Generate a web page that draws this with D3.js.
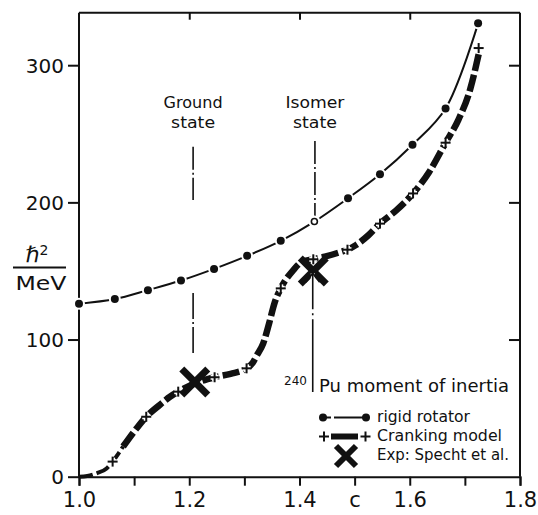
<!DOCTYPE html>
<html>
<head>
<meta charset="utf-8">
<script src="https://cdn.jsdelivr.net/npm/d3@7"></script>
<style>
  html, body { margin: 0; padding: 0; background: #fff; }
  svg { display: block; }
  text { font-family: "DejaVu Sans", "Liberation Sans", sans-serif; fill: #111; }
</style>
</head>
<body>
<svg id="chart" width="538" height="515"></svg>
<script>
// Deformation parameter c (x) and moment of inertia in hbar^2/MeV (y), 240Pu
const xTicks = [1.0, 1.1, 1.2, 1.3, 1.4, 1.5, 1.6, 1.7, 1.8];
const xTickLabels = ["1.0", "", "1.2", "", "1.4", "c", "1.6", "", "1.8"];
const yTicks = [0, 100, 200, 300];
const yTickLabels = ["0", "100", "200", "300"];
const topTicks = [1.2, 1.4, 1.6];

// rigid rotator: points on the curve
const rigidC = [1.0, 1.065, 1.125, 1.185, 1.245, 1.305, 1.366, 1.427, 1.488, 1.546, 1.605, 1.665, 1.724];
const rigidV = [126, 129.5, 136, 143, 151.5, 161, 172, 186, 203, 220.5, 242, 268.5, 330.5];
const rigidOpen = [false, false, false, false, false, false, false, true, false, false, false, false, false];

// cranking model: computed points (crosses)
const crankC = [1.061, 1.122, 1.180, 1.246, 1.304, 1.366, 1.425, 1.487, 1.546, 1.606, 1.665, 1.725];
const crankV = [11, 43.7, 62, 72.5, 79, 137.3, 158.5, 165.5, 184.5, 206.5, 243.5, 312.5];

// cranking model: the drawn curve
const crankCurveC = [1.0, 1.015, 1.032, 1.05, 1.061, 1.08, 1.105, 1.122, 1.147, 1.165, 1.18, 1.21, 1.246, 1.275, 1.304, 1.315, 1.322, 1.334, 1.345, 1.355, 1.366, 1.389, 1.404, 1.425, 1.446, 1.476, 1.487, 1.503, 1.525, 1.546, 1.575, 1.606, 1.635, 1.665, 1.688, 1.71, 1.725];
const crankCurveV = [0, 0.5, 2.5, 6, 11, 22, 35.5, 43.7, 52.5, 58.3, 62, 68, 72.5, 75, 79, 83, 88, 97, 112, 127, 137.3, 150.7, 156.5, 158.5, 160.5, 164, 165.5, 169, 176, 184.5, 194, 206.5, 222, 243.5, 260, 283, 308];

// experiment (Specht et al.)
const expC = [1.21, 1.425];
const expV = [69, 150];

// state markers
const stateNames = [["Ground", "state"], ["Isomer", "state"]];
const stateC = [1.207, 1.428];
const stateUpperV = [[240.6, 201.7], [244.7, 189.2]];
const groundLowerV = [133.9, 90.2];
const isomerArrowC = 1.424;
const isomerArrowV = [148.4, 61.7];

const svg = d3.select("#chart");
const x = d3.scaleLinear().domain([1.0, 1.8]).range([79, 520]);
const y = d3.scaleLinear().domain([0, 300]).range([476.7, 65.2]);
const yTop = 12.7;

const ink = "#111";

// frame
const frame = svg.append("g").attr("fill", "none").attr("stroke", ink).attr("stroke-width", 2);
frame.append("line").attr("x1", x(1.0)).attr("x2", x(1.8)).attr("y1", yTop).attr("y2", yTop);
frame.append("line").attr("x1", x(1.0)).attr("x2", x(1.0)).attr("y1", yTop).attr("y2", y(0));
frame.append("line").attr("x1", x(1.8)).attr("x2", x(1.8)).attr("y1", yTop).attr("y2", y(0));

// bottom axis
const xAxis = d3.axisBottom(x).tickValues(xTicks).tickSize(9).tickPadding(6)
  .tickFormat((d, i) => xTickLabels[i]);
const gx = svg.append("g").attr("transform", `translate(0,${y(0)})`).call(xAxis);
gx.select(".domain").attr("stroke", ink).attr("stroke-width", 2);
gx.selectAll(".tick line").attr("stroke", ink).attr("stroke-width", 2);
gx.selectAll(".tick text").style("font-size", "21px").style("font-family", "'DejaVu Sans', sans-serif")
  .attr("fill", ink);

// left axis
const yAxis = d3.axisLeft(y).tickValues(yTicks).tickSize(11).tickPadding(4)
  .tickFormat((d, i) => yTickLabels[i]);
const gy = svg.append("g").attr("transform", `translate(${x(1.0)},0)`).call(yAxis);
gy.select(".domain").remove();
gy.selectAll(".tick line").attr("stroke", ink).attr("stroke-width", 2);
gy.selectAll(".tick text").style("font-size", "20px").style("font-family", "'DejaVu Sans', sans-serif")
  .attr("fill", ink).attr("dy", "0.36em");

// right axis, ticks inward
const gr = svg.append("g").attr("transform", `translate(${x(1.8)},0)`)
  .call(d3.axisLeft(y).tickValues(yTicks.slice(1)).tickSize(11).tickFormat(""));
gr.select(".domain").remove();
gr.selectAll(".tick line").attr("stroke", ink).attr("stroke-width", 2);

// top axis, ticks inward
const gt = svg.append("g").attr("transform", `translate(0,${yTop})`)
  .call(d3.axisBottom(x).tickValues(topTicks).tickSize(7).tickFormat(""));
gt.select(".domain").remove();
gt.selectAll(".tick line").attr("stroke", ink).attr("stroke-width", 2);

// y-axis unit
const unit = svg.append("g");
unit.append("text").attr("x", 37).attr("y", 262).attr("text-anchor", "middle")
  .style("font-size", "22px")
  .text("ℏ").append("tspan").attr("dy", -7).style("font-size", "14px").text("2");
unit.append("line").attr("x1", 13).attr("x2", 66).attr("y1", 267.5).attr("y2", 267.5)
  .attr("stroke", ink).attr("stroke-width", 2);
unit.append("text").attr("x", 41).attr("y", 290).attr("text-anchor", "middle")
  .attr("textLength", 51).attr("lengthAdjust", "spacingAndGlyphs")
  .style("font-size", "20px").text("MeV");

// state markers (dash-dot verticals)
stateNames.forEach((lines, i) => {
  lines.forEach((t, j) => {
    svg.append("text").attr("x", x(stateC[i])).attr("y", 108 + j * 20)
      .attr("text-anchor", "middle")
      .attr("textLength", j === 0 ? 59 : 44).attr("lengthAdjust", "spacingAndGlyphs")
      .style("font-size", "15px").text(t);
  });
  svg.append("line")
    .attr("x1", x(stateC[i])).attr("x2", x(stateC[i]))
    .attr("y1", y(stateUpperV[i][0])).attr("y2", y(stateUpperV[i][1]))
    .attr("stroke", ink).attr("stroke-width", 1.6)
    .attr("stroke-dasharray", "23 3 2 3");
});
svg.append("line")
  .attr("x1", x(stateC[0])).attr("x2", x(stateC[0]))
  .attr("y1", y(groundLowerV[0])).attr("y2", y(groundLowerV[1]))
  .attr("stroke", ink).attr("stroke-width", 1.6)
  .attr("stroke-dasharray", "26 3 2 3");

// rigid rotator
const rigid = rigidC.map((c, i) => ({ c, v: rigidV[i], open: rigidOpen[i] }));
svg.append("path").datum(rigid)
  .attr("fill", "none").attr("stroke", ink).attr("stroke-width", 2)
  .attr("d", d3.line().x(d => x(d.c)).y(d => y(d.v)).curve(d3.curveCatmullRom));
svg.append("g").selectAll("circle").data(rigid).join("circle")
  .attr("cx", d => x(d.c)).attr("cy", d => y(d.v)).attr("r", 6).attr("fill", "#fff");
svg.append("g").selectAll("circle").data(rigid).join("circle")
  .attr("cx", d => x(d.c)).attr("cy", d => y(d.v))
  .attr("r", d => d.open ? 3 : 4)
  .attr("fill", d => d.open ? "#fff" : ink)
  .attr("stroke", ink).attr("stroke-width", d => d.open ? 1.6 : 0);

// cranking model curve: thinner where it leaves the origin
const crankCurve = crankCurveC.map((c, i) => ({ c, v: crankCurveV[i] }));
const crankLine = d3.line().x(d => x(d.c)).y(d => y(d.v)).curve(d3.curveMonotoneX);
svg.append("path").datum(crankCurve.slice(0, 6))
  .attr("fill", "none").attr("stroke", ink).attr("stroke-width", 4)
  .attr("stroke-dasharray", "14 4")
  .attr("d", crankLine);
svg.append("path").datum(crankCurve.slice(5))
  .attr("fill", "none").attr("stroke", ink).attr("stroke-width", 6.5)
  .attr("stroke-dasharray", "17 4")
  .attr("d", crankLine);

function drawPlus(g, cx, cy, h) {
  g.append("line").attr("x1", cx - h).attr("x2", cx + h).attr("y1", cy).attr("y2", cy);
  g.append("line").attr("x1", cx).attr("x2", cx).attr("y1", cy - h).attr("y2", cy + h);
}
const crossHalo = svg.append("g").attr("stroke", "#fff").attr("stroke-width", 5);
const crosses = svg.append("g").attr("stroke", ink).attr("stroke-width", 2);
crankC.forEach((c, i) => {
  const cx = x(c), cy = y(crankV[i]);
  drawPlus(crossHalo, cx, cy, 4);
  drawPlus(crosses, cx, cy, 5);
});

// experimental points
function drawX(g, cx, cy, h) {
  g.append("line").attr("x1", cx - h).attr("x2", cx + h).attr("y1", cy - h).attr("y2", cy + h);
  g.append("line").attr("x1", cx - h).attr("x2", cx + h).attr("y1", cy + h).attr("y2", cy - h);
}
const exps = svg.append("g").attr("stroke", ink).attr("stroke-width", 7);
expC.forEach((c, i) => drawX(exps, x(c), y(expV[i]), 13));

// isomer arrow
const ax = x(isomerArrowC);
svg.append("line").attr("x1", ax).attr("x2", ax)
  .attr("y1", y(isomerArrowV[0])).attr("y2", y(isomerArrowV[1]))
  .attr("stroke", "#fff").attr("stroke-width", 4);
svg.append("line").attr("x1", ax).attr("x2", ax)
  .attr("y1", y(isomerArrowV[0])).attr("y2", y(isomerArrowV[1]))
  .attr("stroke", ink).attr("stroke-width", 1.6)
  .attr("stroke-dasharray", "36 4 2 4 300");
svg.append("path")
  .attr("d", `M${ax - 7},${y(isomerArrowV[0]) + 9}L${ax},${y(isomerArrowV[0])}L${ax + 7},${y(isomerArrowV[0]) + 9}`)
  .attr("fill", "none").attr("stroke", ink).attr("stroke-width", 1.8);

// legend
const lg = svg.append("g");
lg.append("text").attr("x", 307).attr("y", 385).attr("text-anchor", "end")
  .style("font-size", "12px").text("240");
lg.append("text").attr("x", 319).attr("y", 392).attr("textLength", 190).attr("lengthAdjust", "spacingAndGlyphs")
  .style("font-size", "18px").text("Pu moment of inertia");

lg.append("line").attr("x1", 323).attr("x2", 366).attr("y1", 417.5).attr("y2", 417.5)
  .attr("stroke", ink).attr("stroke-width", 2).attr("stroke-dasharray", "8 3 40");
lg.append("circle").attr("cx", 323).attr("cy", 417.5).attr("r", 4).attr("fill", ink);
lg.append("circle").attr("cx", 366).attr("cy", 417.5).attr("r", 4).attr("fill", ink);
lg.append("text").attr("x", 377).attr("y", 422).attr("textLength", 93).attr("lengthAdjust", "spacingAndGlyphs")
  .style("font-size", "16px").text("rigid rotator");

lg.append("line").attr("x1", 331).attr("x2", 358).attr("y1", 436.5).attr("y2", 436.5)
  .attr("stroke", ink).attr("stroke-width", 6);
const lgPlus = lg.append("g").attr("stroke", ink).attr("stroke-width", 2);
drawPlus(lgPlus, 324, 436.5, 5);
drawPlus(lgPlus, 365.5, 436.5, 5);
lg.append("text").attr("x", 377).attr("y", 441).attr("textLength", 125).attr("lengthAdjust", "spacingAndGlyphs")
  .style("font-size", "16px").text("Cranking model");

const lgX = lg.append("g").attr("stroke", ink).attr("stroke-width", 6);
drawX(lgX, 346, 456, 10);
lg.append("text").attr("x", 377).attr("y", 460).attr("textLength", 132).attr("lengthAdjust", "spacingAndGlyphs")
  .style("font-size", "16px").text("Exp: Specht et al.");
</script>
</body>
</html>
